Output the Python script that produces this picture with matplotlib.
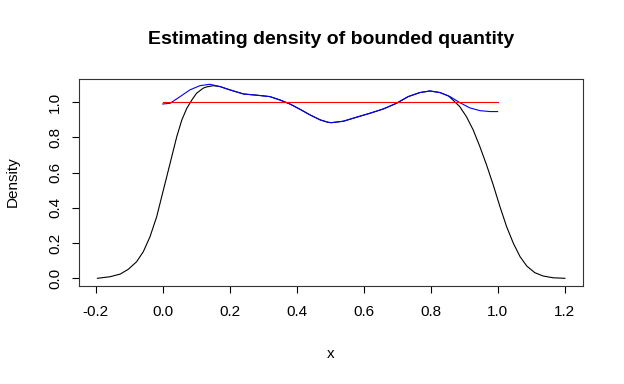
import matplotlib
matplotlib.use("Agg")
import matplotlib.pyplot as plt

plt.rcParams['font.family'] = ['Liberation Sans', 'DejaVu Sans']

# Naive kernel density (black)
naive_x = [-0.195, -0.157, -0.127, -0.103, -0.078, -0.058, -0.038, -0.018, -0.003,
           0.012, 0.027, 0.042, 0.057, 0.072, 0.087, 0.101, 0.121, 0.131, 0.151,
           0.171, 0.201, 0.241, 0.281, 0.32, 0.35, 0.38, 0.41, 0.44, 0.47, 0.494,
           0.504, 0.539, 0.579, 0.619, 0.659, 0.698, 0.733, 0.768, 0.798, 0.828,
           0.853, 0.867, 0.887, 0.907, 0.927, 0.947, 0.967, 0.987, 1.007, 1.027,
           1.047, 1.067, 1.087, 1.111, 1.136, 1.166, 1.201]
naive_y = [0.0, 0.009, 0.024, 0.051, 0.094, 0.151, 0.236, 0.35, 0.464,
           0.577, 0.691, 0.805, 0.899, 0.966, 1.013, 1.051, 1.08, 1.087, 1.094,
           1.089, 1.07, 1.047, 1.04, 1.032, 1.013, 0.99, 0.96, 0.928, 0.9, 0.886,
           0.884, 0.892, 0.915, 0.9375, 0.962, 0.994, 1.032, 1.055, 1.064, 1.055,
           1.036, 1.012, 0.975, 0.918, 0.843, 0.748, 0.644, 0.53, 0.407, 0.293,
           0.199, 0.123, 0.07, 0.032, 0.013, 0.003, 0.0]

# Boundary-corrected density (blue)
corr_x = [0.0, 0.022, 0.052, 0.081, 0.111, 0.141, 0.171, 0.201, 0.241, 0.281, 0.32,
          0.35, 0.38, 0.41, 0.44, 0.47, 0.494, 0.504, 0.539, 0.579, 0.619, 0.659,
          0.698, 0.733, 0.768, 0.798, 0.828, 0.858, 0.887, 0.917, 0.948, 0.978, 1.0]
corr_y = [0.99, 0.994, 1.032, 1.07, 1.094, 1.102, 1.089, 1.07, 1.047, 1.04, 1.032,
          1.013, 0.99, 0.96, 0.928, 0.9, 0.886, 0.884, 0.892, 0.915, 0.9375, 0.962,
          0.994, 1.032, 1.055, 1.064, 1.055, 1.032, 0.998, 0.968, 0.952, 0.947, 0.947]

# True density (red)
true_x = [0.0, 1.0]
true_y = [1.0, 1.0]

xticks = [-0.2, 0.0, 0.2, 0.4, 0.6, 0.8, 1.0, 1.2]
yticks = [0.0, 0.2, 0.4, 0.6, 0.8, 1.0]

fig = plt.figure(figsize=(6.24, 3.84), dpi=100)
ax = fig.add_axes([79/624, 1-285.7/384, (583-79)/624, (285.7-79)/384])

ax.plot(naive_x, naive_y, color='black', lw=0.8)
ax.plot(corr_x, corr_y, color='blue', lw=0.8)
ax.plot(true_x, true_y, color='red', lw=0.8)

ax.set_xlim(-0.25, 1.255)
ax.set_ylim(-0.042, 1.132)
ax.set_xticks(xticks)
ax.set_xticklabels([f"{v:.1f}" for v in xticks])
ax.set_yticks(yticks)
ax.set_yticklabels([f"{v:.1f}" for v in yticks], rotation=90, va='center')
ax.tick_params(axis='both', labelsize=11, length=5, width=0.8, direction='out')
ax.tick_params(axis='x', pad=9)
ax.tick_params(axis='y', pad=7)
for s in ax.spines.values():
    s.set_linewidth(0.8)
    s.set_color('#333333')

fig.text(331/624, 1-40/384, "Estimating density of bounded quantity",
         ha='center', va='center', fontsize=14, fontweight='bold')
fig.text(331/624, 1-354/384, "x", ha='center', va='center', fontsize=11)
fig.text(12.5/624, 1-182/384, "Density", ha='center', va='center', fontsize=11, rotation=90)

fig.savefig("out.png", dpi=100)
